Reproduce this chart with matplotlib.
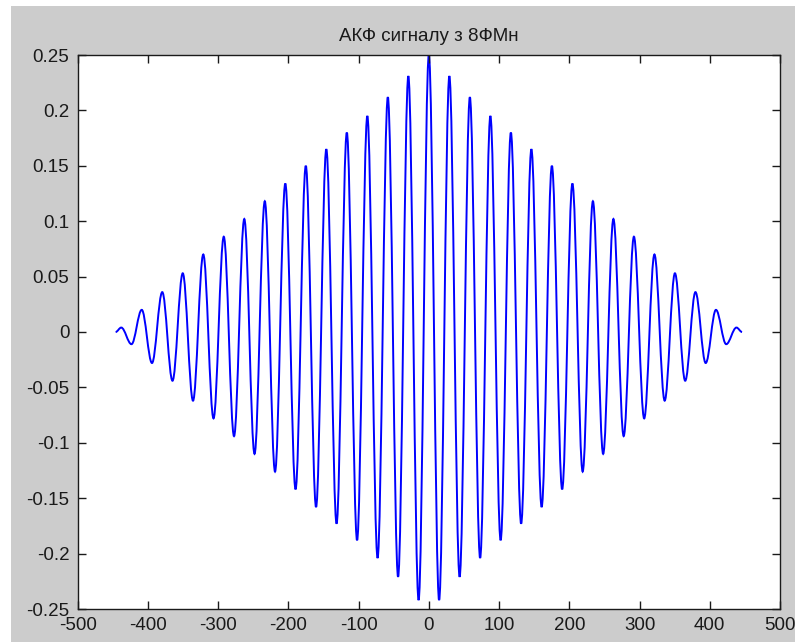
import matplotlib
matplotlib.use("Agg")
import matplotlib.pyplot as plt
from matplotlib.patches import Rectangle, PathPatch
from matplotlib.path import Path
import numpy as np

plt.rcParams['font.family'] = ['Liberation Sans', 'DejaVu Sans']
plt.rcParams['axes.unicode_minus'] = False

# extrema of the ACF for lags >= 0 (peaks and troughs), mirrored for lags < 0
lags_pos = [0, 14.6, 29.2, 43.8, 58.4, 73.0, 87.6, 102.2, 116.8, 131.4,
            146.0, 160.6, 175.2, 189.8, 204.4, 219.0, 233.6, 248.2, 262.8, 277.4,
            292.0, 306.6, 321.2, 335.8, 350.4, 365.0, 379.6, 394.2, 408.8, 423.4,
            438.0, 446.0]
acf_pos = [0.250, -0.242, 0.231, -0.221, 0.212, -0.204, 0.195, -0.188, 0.180, -0.173,
           0.165, -0.158, 0.150, -0.142, 0.134, -0.126, 0.118, -0.110, 0.102, -0.094,
           0.086, -0.078, 0.070, -0.062, 0.053, -0.044, 0.036, -0.028, 0.020, -0.011,
           0.004, 0.000]

xticks = [-500, -400, -300, -200, -100, 0, 100, 200, 300, 400, 500]
yticks = [-0.25, -0.2, -0.15, -0.1, -0.05, 0, 0.05, 0.1, 0.15, 0.2, 0.25]
ytick_labels = ['-0.25', '-0.2', '-0.15', '-0.1', '-0.05', '0', '0.05', '0.1', '0.15', '0.2', '0.25']

lags = np.concatenate([-np.array(lags_pos[:0:-1]), np.array(lags_pos)])
acf = np.concatenate([np.array(acf_pos[:0:-1]), np.array(acf_pos)])

fig = plt.figure(figsize=(7.95, 6.42), dpi=100)
fig.patch.set_facecolor('white')
# grey window area (thin white strip along top and left)
fig.patches.append(Rectangle((11 / 795, 0), 1 - 11 / 795, 1 - 6 / 642,
                             transform=fig.transFigure, facecolor='#cccccc',
                             edgecolor='none', zorder=-10))

ax = fig.add_axes([77.7 / 795, 1 - 609 / 642, (780 - 77.7) / 795, (609 - 55) / 642])

# smooth curve through the extrema: cubic segments with flat tangents at each extremum
verts = [(lags[0], acf[0])]
codes = [Path.MOVETO]
for i in range(len(lags) - 1):
    dx = lags[i + 1] - lags[i]
    verts += [(lags[i] + 0.36 * dx, acf[i]),
              (lags[i + 1] - 0.36 * dx, acf[i + 1]),
              (lags[i + 1], acf[i + 1])]
    codes += [Path.CURVE4] * 3
ax.add_patch(PathPatch(Path(verts, codes), facecolor='none', edgecolor='#0000ff', lw=1.4))

ax.set_xlim(-500, 500)
ax.set_ylim(-0.25, 0.25)
ax.set_xticks(xticks)
ax.set_xticklabels([str(t) for t in xticks])
ax.set_yticks(yticks)
ax.set_yticklabels(ytick_labels)
ax.tick_params(direction='in', length=6, width=1, labelsize=13.5, colors='#1a1a1a',
               top=True, right=True, pad=6)
for s in ax.spines.values():
    s.set_color('#1a1a1a')
    s.set_linewidth(1)

ax.set_title('АКФ сигналу з 8ФМн', fontsize=13.5, color='#1a1a1a', pad=10)

fig.savefig('out.png', dpi=100)
